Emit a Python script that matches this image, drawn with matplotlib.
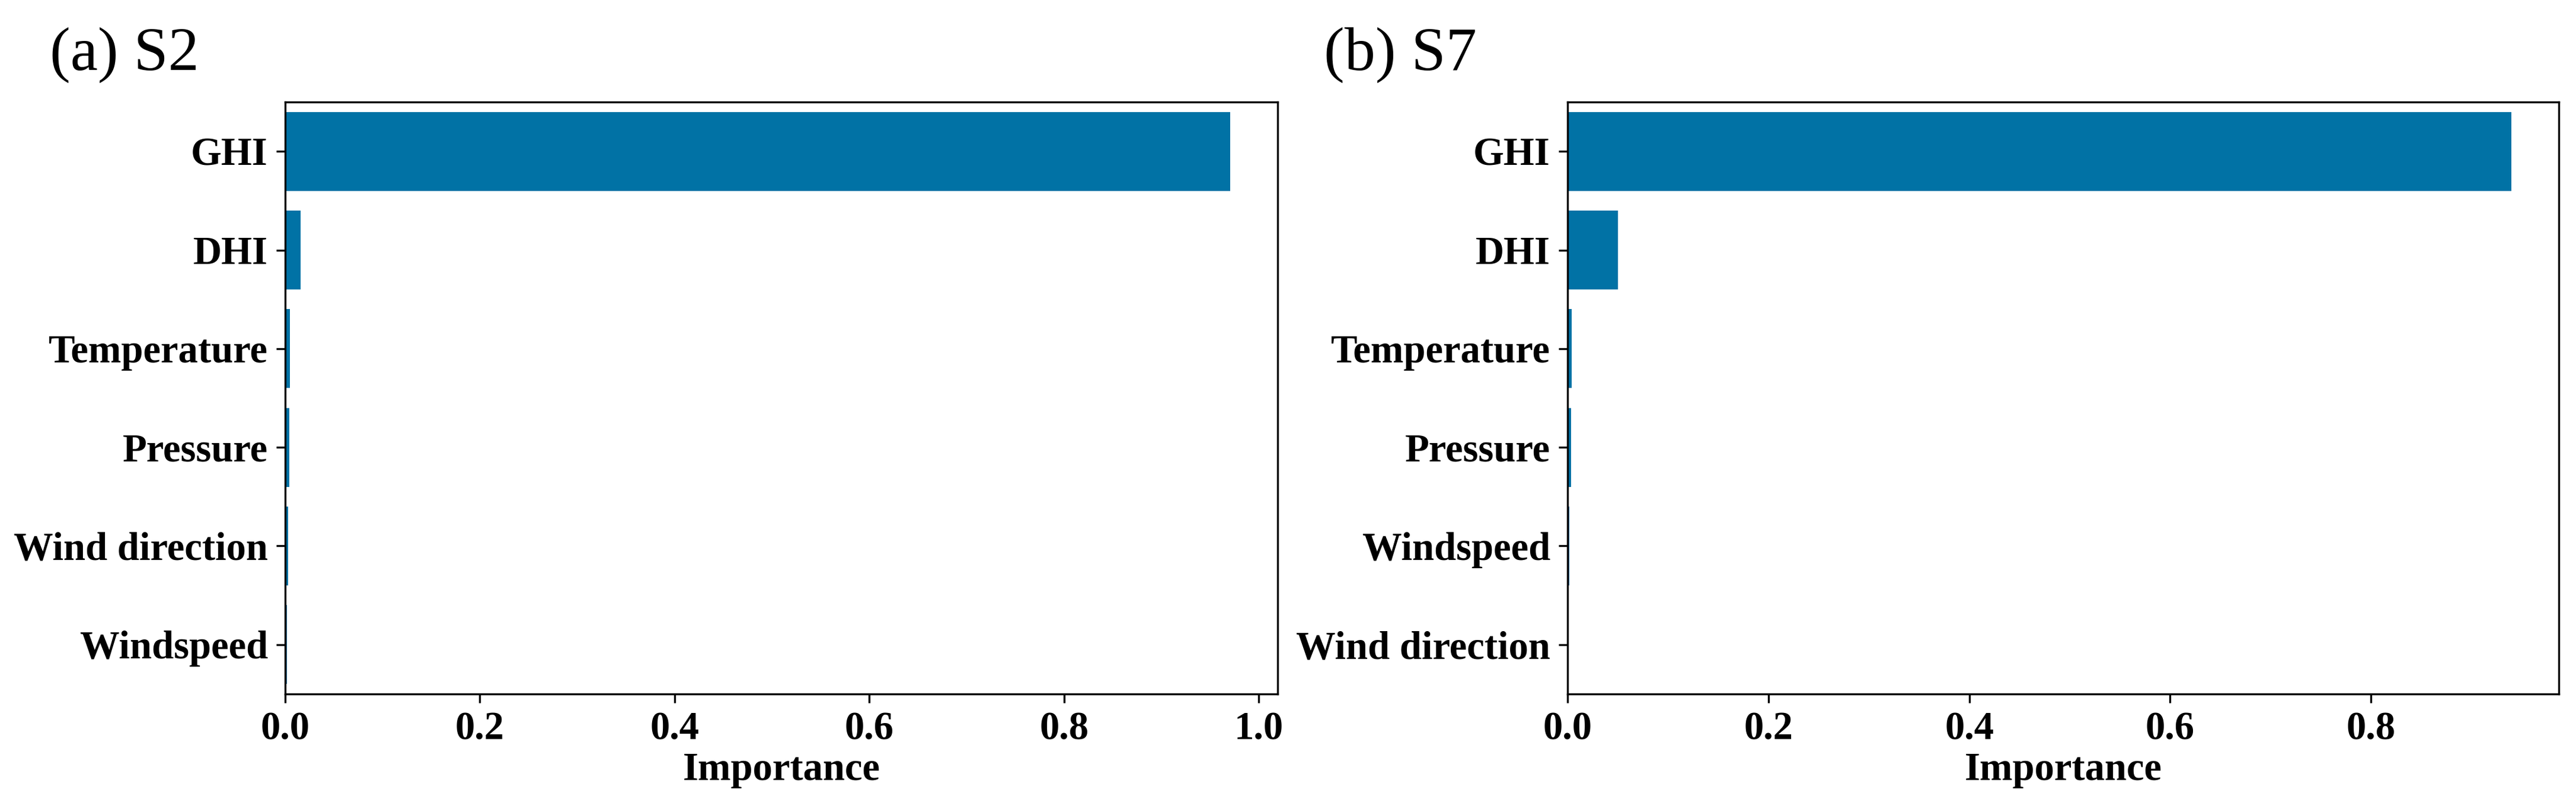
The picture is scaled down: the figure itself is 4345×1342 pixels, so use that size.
import matplotlib
matplotlib.use("Agg")
import matplotlib.pyplot as plt

plt.rcParams['font.family'] = ['Liberation Serif', 'DejaVu Serif']

# Feature importances
features_s2 = ['GHI', 'DHI', 'Temperature', 'Pressure', 'Wind direction', 'Windspeed']
importance_s2 = [0.971, 0.016, 0.005, 0.0045, 0.003, 0.002]

features_s7 = ['GHI', 'DHI', 'Temperature', 'Pressure', 'Windspeed', 'Wind direction']
importance_s7 = [0.940, 0.050, 0.004, 0.0035, 0.002, 0.0015]

titles = ['(a) S2', '(b) S7']
bar_color = '#0172a5'

fig = plt.figure(figsize=(4345 / 300, 1342 / 300), dpi=300)
ax1 = fig.add_axes([0.1107, 0.1282, 0.3853, 0.7436])
ax2 = fig.add_axes([0.6085, 0.1282, 0.3848, 0.7436])

for ax, feats, vals in [(ax1, features_s2, importance_s2), (ax2, features_s7, importance_s7)]:
    pos = list(range(len(feats)))
    ax.barh(pos, vals, height=0.8, color=bar_color)
    ax.set_yticks(pos)
    ax.set_yticklabels(feats, fontsize=16, fontweight='bold')
    ax.set_ylim(len(feats) - 0.5, -0.5)
    ax.set_xlim(0, max(vals) * 1.05)
    ax.set_xlabel('Importance', fontsize=16, fontweight='bold', labelpad=2)
    for lab in ax.get_xticklabels():
        lab.set_fontsize(16)
        lab.set_fontweight('bold')

# panel titles
fig.text(0.0193, 0.931, titles[0], fontsize=25, va='center', ha='left')
fig.text(0.514, 0.931, titles[1], fontsize=25, va='center', ha='left')

fig.savefig('out.png', dpi=300)
